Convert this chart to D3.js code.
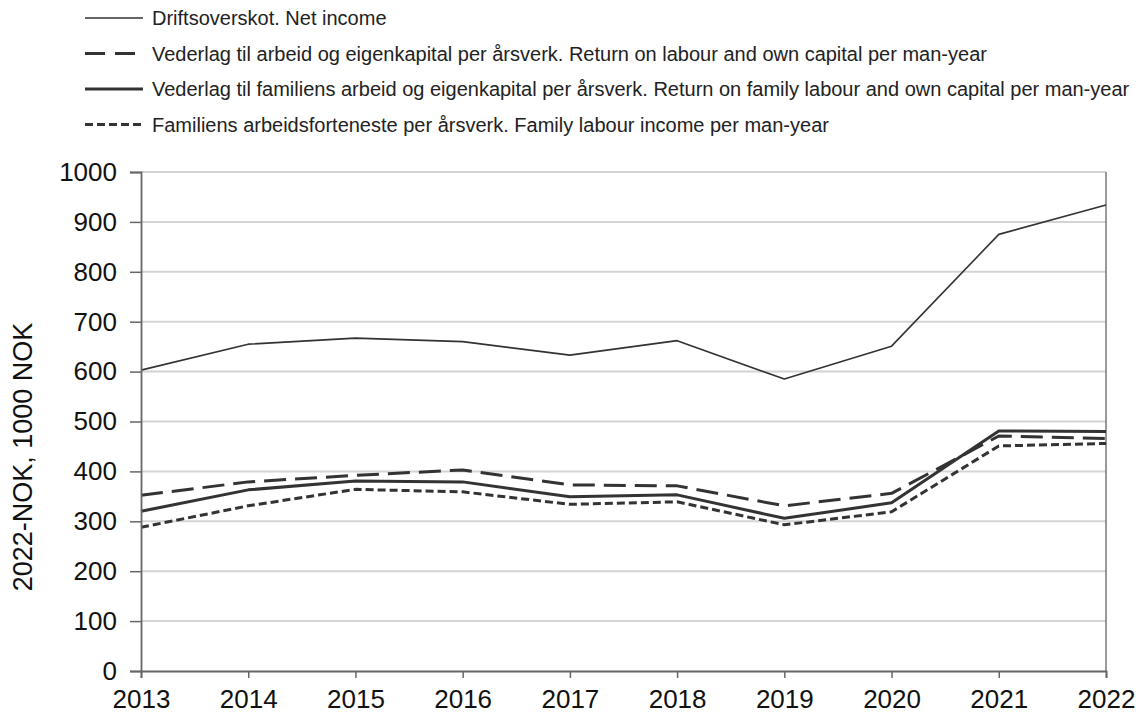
<!DOCTYPE html>
<html>
<head>
<meta charset="utf-8">
<script src="https://cdn.jsdelivr.net/npm/d3@7"></script>
<style>
  body { margin: 0; background: #fff; }
  svg { display: block; font-family: "Liberation Sans", Arial, sans-serif; }
</style>
</head>
<body>
<div id="chart"></div>
<script>
// Data
const years = [2013, 2014, 2015, 2016, 2017, 2018, 2019, 2020, 2021, 2022];
const netIncome = [603, 655, 667, 660, 633, 662, 585, 651, 875, 934];
const returnLabourCapital = [352, 379, 392, 403, 373, 371, 331, 356, 471, 466];
const returnFamilyLabour = [320, 363, 381, 379, 349, 353, 306, 337, 481, 480];
const familyLabourIncome = [288, 331, 364, 359, 334, 339, 293, 319, 451, 456];
const yTicks = [0, 100, 200, 300, 400, 500, 600, 700, 800, 900, 1000];

const series = [
  { name: "Driftsoverskot. Net income", values: netIncome, width: 1.6, dash: null, legendDash: null },
  { name: "Vederlag til arbeid og eigenkapital per årsverk. Return on labour and own capital per man-year", values: returnLabourCapital, width: 3, dash: "22,9", legendDash: "20,10" },
  { name: "Vederlag til familiens arbeid og eigenkapital per årsverk. Return on family labour and own capital per man-year", values: returnFamilyLabour, width: 3, dash: null, legendDash: null },
  { name: "Familiens arbeidsforteneste per årsverk. Family labour income per man-year", values: familyLabourIncome, width: 3, dash: "8,4", legendDash: "8,4" }
];

const width = 1140, height = 714;
const margin = { top: 172, right: 34, bottom: 43, left: 141 };

const svg = d3.select("#chart").append("svg")
    .attr("width", width)
    .attr("height", height);

const x = d3.scaleLinear()
    .domain([2013, 2022])
    .range([margin.left, width - margin.right]);

const y = d3.scaleLinear()
    .domain([0, 1000])
    .range([height - margin.bottom, margin.top]);

// Gridlines
svg.append("g")
    .selectAll("line")
    .data(yTicks.filter(d => d > 0))
    .enter().append("line")
    .attr("x1", margin.left)
    .attr("x2", width - margin.right)
    .attr("y1", d => y(d))
    .attr("y2", d => y(d))
    .attr("stroke", "#d4d4d4")
    .attr("stroke-width", 2);

// Right border
svg.append("line")
    .attr("x1", width - margin.right).attr("x2", width - margin.right)
    .attr("y1", y(1000)).attr("y2", y(0))
    .attr("stroke", "#777").attr("stroke-width", 1.5);

// Lines
const line = d3.line()
    .x((d, i) => x(years[i]))
    .y(d => y(d));

svg.append("g")
    .selectAll("path")
    .data(series)
    .enter().append("path")
    .attr("d", d => line(d.values))
    .attr("fill", "none")
    .attr("stroke", "#333")
    .attr("stroke-width", d => d.width)
    .attr("stroke-dasharray", d => d.dash)
    .attr("stroke-linejoin", "round");

// Axes
const yAxis = svg.append("g")
    .attr("transform", `translate(${margin.left},0)`)
    .call(d3.axisLeft(y).tickValues(yTicks).tickSize(11).tickPadding(13).tickFormat(d3.format("d")));

const xAxis = svg.append("g")
    .attr("transform", `translate(0,${y(0)})`)
    .call(d3.axisBottom(x).tickValues(years).tickSize(7).tickPadding(12).tickFormat(d3.format("d")));

[yAxis, xAxis].forEach(a => {
  a.select(".domain").attr("stroke", "#666").attr("stroke-width", 1.8);
  a.selectAll(".tick line").attr("stroke", "#666").attr("stroke-width", 1.5);
  a.selectAll("text")
      .attr("fill", "#111")
      .style("font-size", "26px")
      .style("font-family", "'Liberation Sans', Arial, sans-serif");
});

// Y axis title
svg.append("text")
    .attr("transform", `translate(32,457) rotate(-90)`)
    .attr("text-anchor", "middle")
    .attr("fill", "#111")
    .style("font-size", "27px")
    .text("2022-NOK, 1000 NOK");

// Legend
const legend = svg.append("g")
    .selectAll("g")
    .data(series)
    .enter().append("g")
    .attr("transform", (d, i) => `translate(85,${18 + i * 35.5})`);

legend.append("line")
    .attr("x1", 0).attr("x2", 58)
    .attr("stroke", "#333")
    .attr("stroke-width", d => d.width)
    .attr("stroke-dasharray", d => d.legendDash);

legend.append("text")
    .attr("x", 67)
    .attr("dy", "0.35em")
    .attr("fill", "#222")
    .style("font-size", "20px")
    .text(d => d.name);
</script>
</body>
</html>
